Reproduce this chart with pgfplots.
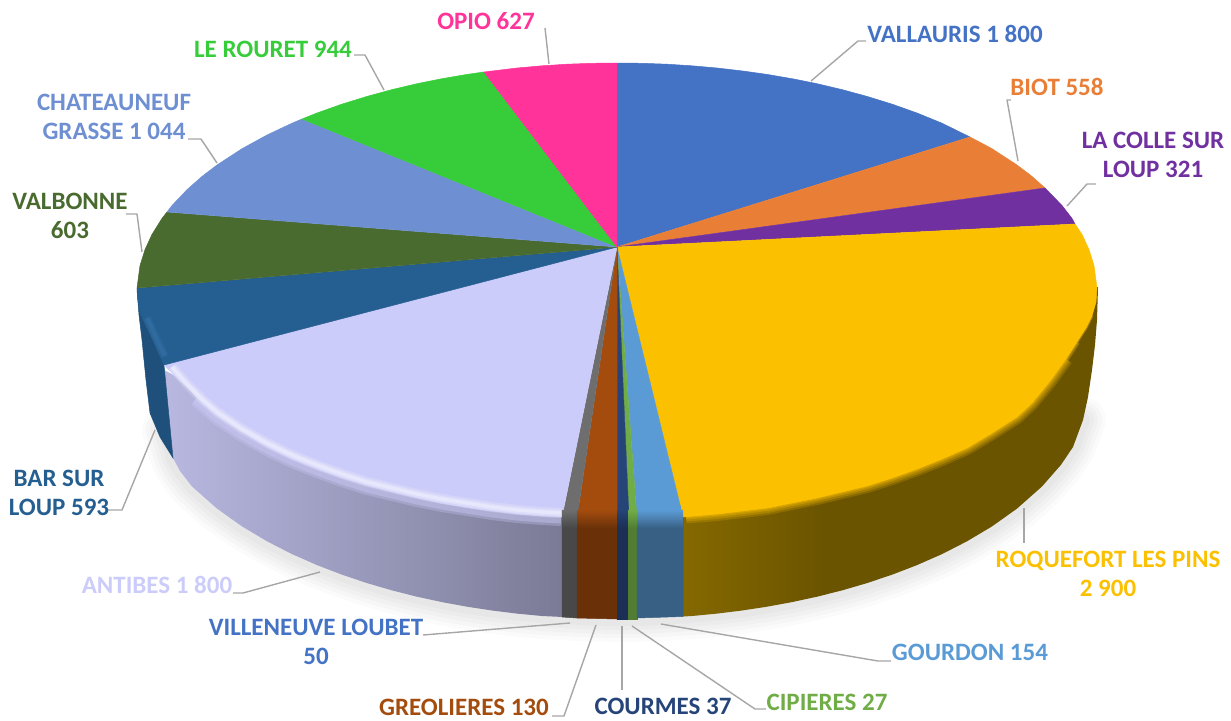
\documentclass[border=0pt]{standalone}
\usepackage{pgfplots}
\pgfplotsset{compat=1.18}
\usepackage{fontspec}
\setmainfont{Carlito}
\definecolor{cvall}{HTML}{4472C4}
\definecolor{cbiot}{HTML}{E97F36}
\definecolor{ccolle}{HTML}{7030A0}
\definecolor{croq}{HTML}{FBC000}
\definecolor{cgour}{HTML}{5B9BD5}
\definecolor{ccip}{HTML}{70AD47}
\definecolor{ccour}{HTML}{264478}
\definecolor{cgreo}{HTML}{A34C0E}
\definecolor{cvill}{HTML}{6E6E6E}
\definecolor{cant}{HTML}{CCCCFA}
\definecolor{cbar}{HTML}{255E91}
\definecolor{cval}{HTML}{4A6B2F}
\definecolor{cchat}{HTML}{6F8FD3}
\definecolor{crou}{HTML}{36CC3A}
\definecolor{copio}{HTML}{FF3399}
\definecolor{leader}{HTML}{A6A6A6}
\definecolor{sidea}{HTML}{856800}
\definecolor{sideb}{HTML}{6B5400}
\pgfdeclarehorizontalshading{roqside}{100bp}{color(0bp)=(sidea); color(25bp)=(sidea); color(42bp)=(sideb); color(100bp)=(sideb)}
\pgfplotstableread{
x y
165 430
173 458
180 471
192 486.5
217 508.6
242 526.4
267 541.3
292 554.1
317 565.1
342 574.7
367 583.1
392 590.4
417 596.7
442 602.1
467 606.7
492 610.5
517 613.6
542 616
562 617
590 618.5
617 619
642 618.7
667 617.5
692 616
717 613.6
742 610.5
767 606.7
792 602.1
817 596.7
842 590.4
867 583.1
892 574.7
917 565.1
942 554.1
967 541.3
992 526.4
1017 508.6
1042 486.5
1061 464.8
1073 447
1083 420
}\shadowline
\pgfplotstableread{
x y
1066 359
1050 381
1032 403
1017 417
992 433
967 448
942 459
917 469
892 478
867 486
842 492
817 498
792 503
767 508
742 511
717 514
686 516.5
}\roqrim
\pgfplotstableread{
x y
172 367
187 384
202 399
217 412
242 429
267 443
292 455
317 465
342 474
367 482
392 488
417 494
442 499
467 503
492 507
517 510
542 512
561 513
}\antrim
\pgfplotstableread{
x y
195 400
217 419
242 436
267 450
292 462
317 472
342 481
367 489
392 495
417 501
442 506
467 510
492 514
517 517
542 519
561 520
}\antglow
\tikzset{
  slice/.style={draw=#1, fill=#1, line width=0.5pt},
  lab/.style={font=\fontsize{25}{29}\selectfont\bfseries, inner sep=0pt, align=center, text=#1},
  lead/.style={draw=leader, line width=1.4pt, line join=round},
}
\begin{document}
\begin{tikzpicture}
\begin{axis}[
    scale only axis, width=1231pt, height=720pt,
    xmin=0, xmax=1231, ymin=0, ymax=720, y dir=reverse,
    hide axis, clip=false,
]
\addplot[draw=none] coordinates {(0,0)(1231,0)(1231,720)(0,720)};
% soft shadow under the pie
\addplot[draw=black, opacity=0.016, line width=46pt, line join=round, line cap=round] table {\shadowline};
\addplot[draw=black, opacity=0.018, line width=38pt, line join=round, line cap=round] table {\shadowline};
\addplot[draw=black, opacity=0.02, line width=30pt, line join=round, line cap=round] table {\shadowline};
\addplot[draw=black, opacity=0.02, line width=22pt, line join=round, line cap=round] table {\shadowline};
\addplot[draw=black, opacity=0.02, line width=14pt, line join=round, line cap=round] table {\shadowline};
% side walls
\addplot[draw=none, shading=roqside] coordinates {(683,505)(683,616.5)(692,616)(717,613.6)(742,610.5)(767,606.7)(792,602.1)(817,596.7)(842,590.4)(867,583.1)(892,574.7)(917,565.1)(942,554.1)(967,541.3)(992,526.4)(1017,508.6)(1042,486.5)(1061,464.8)(1073,447)(1083,420)(1088,397)(1092,370)(1095,345)(1097,320)(1098,287)(1050,300)};
\addplot[draw=none, left color=cant!90!black, right color=cant!60!black] coordinates {(164,370)(173,458)(180,471)(192,486.5)(217,508.6)(242,526.4)(267,541.3)(292,554.1)(317,565.1)(342,574.7)(367,583.1)(392,590.4)(417,596.7)(442,602.1)(467,606.7)(492,610.5)(517,613.6)(542,616)(563,617)(563,500)(300,440)};
\addplot[slice={cbar!85!black}] coordinates {(137,290)(139,315)(142,340)(146,380)(150,413)(160,437)(173,458)(164,365)(160,300)};
\addplot[slice={cvill!65!black}] coordinates {(562,505)(562,617)(577,618)(577,505)};
\addplot[slice={cgreo!65!black}] coordinates {(577,505)(577,618)(617,619)(617,505)};
\addplot[slice={ccour!70!black}] coordinates {(617,505)(617,619)(628,619)(628,505)};
\addplot[slice={ccip!72!black}] coordinates {(628,505)(628,619)(637,619)(637,505)};
\addplot[slice={cgour!62!black}] coordinates {(637,505)(637,618)(683,616.5)(683,505)};
% top faces, clockwise from twelve o'clock
\addplot[slice=cvall] coordinates {(617,247)(617,63)(642,63.3)(667,64.2)(692,65.8)(717,68)(742,70.9)(767,74.4)(792,78.7)(817,83.7)(842,89.6)(867,96.4)(892,104.1)(917,113)(942,123.2)(970,137)};
\addplot[slice=cbiot] coordinates {(617,247)(970,137)(992,148.7)(1017,165)(1032,176.4)(1045,188)};
\addplot[slice=ccolle] coordinates {(617,247)(1045,188)(1062,205.5)(1072,218.4)(1075,224)};
\addplot[slice=croq] coordinates {(617,247)(1075,224)(1082,234.4)(1089,249.6)(1094,265.6)(1097,288)(1096,302)(1092,316)(1086,328)(1077,342)(1066,359)(1050,381)(1032,403)(1017,417)(992,433)(967,448)(942,459)(917,469)(892,478)(867,486)(842,492)(817,498)(792,503)(767,508)(742,511)(717,514)(683,517)};
\addplot[slice=cgour] coordinates {(617,247)(683,517)(637,519)};
\addplot[slice=ccip] coordinates {(617,247)(637,519)(629,519)};
\addplot[slice=ccour] coordinates {(617,247)(629,519)(617,519)};
\addplot[slice=cgreo] coordinates {(617,247)(617,519)(577,518)};
\addplot[slice=cvill] coordinates {(617,247)(577,518)(562,517)};
\addplot[slice=cant] coordinates {(617,247)(562,517)(542,516)(517,514)(492,511)(467,507.6)(442,503.3)(417,498)(392,492)(367,485.6)(342,478)(317,469)(292,459)(267,447)(242,432)(217,416)(202,403)(187,387)(175,376)(164,365)};
\addplot[slice=cbar] coordinates {(617,247)(164,365)(158,352)(153,340)(146,326)(140,313)(138,300)(137,288)};
\addplot[slice=cval] coordinates {(617,247)(137,288)(140,265.6)(145,249.6)(152,234.4)(162,218.4)(167,212)};
\addplot[slice=cchat] coordinates {(617,247)(167,212)(172,205.5)(187,189.7)(202,176.4)(217,165)(242,148.7)(267,135)(292,123.2)(302,119)};
\addplot[slice=crou] coordinates {(617,247)(302,119)(317,113)(342,104.1)(367,96.4)(392,89.6)(417,83.7)(442,78.7)(467,74.4)(484,72)};
\addplot[slice=copio] coordinates {(617,247)(484,72)(517,68)(542,65.8)(567,64.2)(592,63.3)(617,63)};
% bevel along the front rim
\addplot[draw=croq, opacity=0.2, line width=14pt] table {\roqrim};
\addplot[draw=croq, opacity=0.25, line width=10pt] table {\roqrim};
\addplot[draw=croq, opacity=0.3, line width=6pt] coordinates {(1077,342)(1066,359)(1050,381)(1032,403)(1017,417)(992,433)(967,448)(942,459)(917,469)(892,478)(867,486)(842,492)(817,498)(792,503)(767,508)(742,511)(717,514)(686,516.5)};
\addplot[draw=croq, opacity=0.35, line width=3pt] coordinates {(1092,316)(1086,328)(1077,342)(1066,359)(1050,381)(1032,403)(1017,417)(992,433)(967,448)(942,459)(917,469)(892,478)(867,486)(842,492)(817,498)(792,503)(767,508)(742,511)(717,514)(686,516.5)};
\addplot[draw=cant, opacity=0.3, line width=12pt] table {\antglow};
\addplot[draw=cant, opacity=0.4, line width=7pt] table {\antglow};
\addplot[draw=white, opacity=0.18, line width=10pt] table {\antrim};
\addplot[draw=white, opacity=0.25, line width=6pt] table {\antrim};
\addplot[draw=white, opacity=0.3, line width=3pt] table {\antrim};
\addplot[draw=none, top color=cvill, bottom color=cvill!65!black] coordinates {(562,510)(562,528)(577,528)(577,510)};
\addplot[draw=none, top color=cgreo, bottom color=cgreo!65!black] coordinates {(577,510)(577,528)(617,528)(617,510)};
\addplot[draw=none, top color=ccour, bottom color=ccour!70!black] coordinates {(617,510)(617,528)(628,528)(628,510)};
\addplot[draw=none, top color=ccip, bottom color=ccip!72!black] coordinates {(628,510)(628,528)(637,528)(637,510)};
\addplot[draw=none, top color=cgour, bottom color=cgour!62!black] coordinates {(637,510)(637,528)(683,528)(683,510)};
\addplot[draw=cbar!50!cgour, opacity=0.2, line width=8pt] coordinates {(147,318)(151,326)(157,340)(165,356)};
\addplot[draw=cbar!50!cgour, opacity=0.3, line width=4pt] coordinates {(147,318)(151,326)(157,340)(165,356)};
% leader lines
\addplot[lead] coordinates {(811,81)(858,41)(866,41)};
\addplot[lead] coordinates {(1018,161)(1007,100)(1011,100)};
\addplot[lead] coordinates {(1067,206)(1087,184)(1096,184)};
\addplot[lead] coordinates {(1024,508)(1024,543)};
\addplot[lead] coordinates {(661,624)(878,661)(891,661)};
\addplot[lead] coordinates {(632,626)(755,709)(766,709)};
\addplot[lead] coordinates {(622,626)(622,690)};
\addplot[lead] coordinates {(596,625)(564,716)(552,716)};
\addplot[lead] coordinates {(570,623)(423,635)};
\addplot[lead] coordinates {(320,572)(243,593)(233,593)};
\addplot[lead] coordinates {(155,430)(122,510)(108,510)};
\addplot[lead] coordinates {(142,252)(137,214)(126,214)};
\addplot[lead] coordinates {(217,163)(201,139)(188,139)};
\addplot[lead] coordinates {(384,90)(365,55)(354,55)};
\addplot[lead] coordinates {(549,64)(545,28)};
% labels
\node[lab=cvall] at (axis cs:955,34) {VALLAURIS 1 800};
\node[lab=cbiot] at (axis cs:1057,87) {BIOT 558};
\node[lab=ccolle] at (axis cs:1153,155) {LA COLLE SUR\\LOUP 321};
\node[lab=croq] at (axis cs:1108,574) {ROQUEFORT LES PINS\\2 900};
\node[lab=cgour] at (axis cs:970,652) {GOURDON 154};
\node[lab=ccip] at (axis cs:827,702) {CIPIERES 27};
\node[lab=ccour] at (axis cs:663,706) {COURMES 37};
\node[lab=cgreo] at (axis cs:464,707) {GREOLIERES 130};
\node[lab=cvall] at (axis cs:316,642) {VILLENEUVE LOUBET\\50};
\node[lab=cant] at (axis cs:157,585) {ANTIBES 1 800};
\node[lab=cbar] at (axis cs:59,493) {BAR SUR\\LOUP 593};
\node[lab=cval] at (axis cs:70,216) {VALBONNE\\603};
\node[lab=cchat] at (axis cs:114,117) {CHATEAUNEUF\\GRASSE 1 044};
\node[lab=crou] at (axis cs:273,49) {LE ROURET 944};
\node[lab=copio] at (axis cs:486,21) {OPIO 627};
\end{axis}
\end{tikzpicture}
\end{document}
